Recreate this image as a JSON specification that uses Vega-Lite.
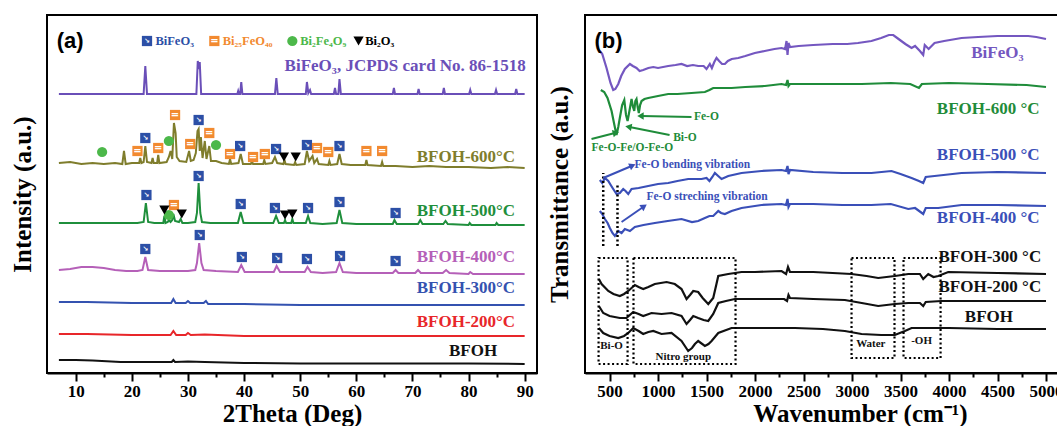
{
"$schema": "https://vega.github.io/schema/vega-lite/v6.json",
"padding": {"left": 9, "top": 14, "right": 0, "bottom": 0},
"spacing": 8,
"background": "white",
"config": {
  "view": {"stroke": "black", "strokeWidth": 2},
  "axis": {"grid": false, "domainColor": "black", "domainWidth": 2, "tickColor": "black", "tickWidth": 2,
    "labelFont": "Liberation Serif", "labelFontWeight": "bold", "labelFontSize": 17, "labelColor": "black",
    "titleFont": "Liberation Serif", "titleFontWeight": "bold", "titleFontSize": 25, "titleColor": "black"},
  "text": {"font": "Liberation Serif", "fontWeight": "bold"}
},
"resolve": {"scale": {"color": "independent", "fill": "independent", "shape": "independent", "size": "independent", "x": "independent", "y": "independent"}},
"datasets": {
"xrd": [
{"s":"JCPDS","x":7,"y":279},{"s":"JCPDS","x":22.1,"y":279},{"s":"JCPDS","x":22.4,"y":307},{"s":"JCPDS","x":22.7,"y":279},{"s":"JCPDS","x":31.5,"y":279},{"s":"JCPDS","x":31.75,"y":312},{"s":"JCPDS","x":31.95,"y":304},{"s":"JCPDS","x":32.1,"y":311},{"s":"JCPDS","x":32.35,"y":279},{"s":"JCPDS","x":38.8,"y":279},{"s":"JCPDS","x":38.95,"y":282},{"s":"JCPDS","x":39.1,"y":279},{"s":"JCPDS","x":39.3,"y":279},{"s":"JCPDS","x":39.5,"y":291},{"s":"JCPDS","x":39.7,"y":279},{"s":"JCPDS","x":45.5,"y":279},{"s":"JCPDS","x":45.75,"y":295},{"s":"JCPDS","x":46.0,"y":279},{"s":"JCPDS","x":51.0,"y":279},{"s":"JCPDS","x":51.2,"y":291},{"s":"JCPDS","x":51.45,"y":280},{"s":"JCPDS","x":51.75,"y":283},{"s":"JCPDS","x":51.95,"y":279},{"s":"JCPDS","x":56.0,"y":279},{"s":"JCPDS","x":56.2,"y":285},{"s":"JCPDS","x":56.4,"y":279},{"s":"JCPDS","x":56.8,"y":279},{"s":"JCPDS","x":57.0,"y":294},{"s":"JCPDS","x":57.25,"y":279},{"s":"JCPDS","x":66.5,"y":279},{"s":"JCPDS","x":66.7,"y":285},{"s":"JCPDS","x":66.9,"y":279},{"s":"JCPDS","x":70.9,"y":279},{"s":"JCPDS","x":71.1,"y":284},{"s":"JCPDS","x":71.3,"y":279},{"s":"JCPDS","x":75.4,"y":279},{"s":"JCPDS","x":75.6,"y":285},{"s":"JCPDS","x":75.8,"y":279},{"s":"JCPDS","x":80.1,"y":279},{"s":"JCPDS","x":80.3,"y":283},{"s":"JCPDS","x":80.5,"y":279},{"s":"JCPDS","x":84.7,"y":279},{"s":"JCPDS","x":84.9,"y":283},{"s":"JCPDS","x":85.1,"y":279},{"s":"JCPDS","x":88.3,"y":279},{"s":"JCPDS","x":88.5,"y":284},{"s":"JCPDS","x":88.7,"y":279},{"s":"JCPDS","x":90,"y":279},
{"s":"600","x":7,"y":210},{"s":"600","x":9,"y":211},{"s":"600","x":11,"y":209},{"s":"600","x":13,"y":210},{"s":"600","x":15,"y":209},{"s":"600","x":17,"y":210},{"s":"600","x":18.3,"y":209},{"s":"600","x":18.6,"y":222},{"s":"600","x":18.9,"y":209},{"s":"600","x":20,"y":210},{"s":"600","x":21.3,"y":210},{"s":"600","x":21.5,"y":215},{"s":"600","x":21.7,"y":210},{"s":"600","x":22.1,"y":211},{"s":"600","x":22.4,"y":227},{"s":"600","x":22.7,"y":211},{"s":"600","x":23.5,"y":210},{"s":"600","x":23.7,"y":215},{"s":"600","x":23.9,"y":210},{"s":"600","x":24.5,"y":210},{"s":"600","x":24.7,"y":218},{"s":"600","x":24.9,"y":210},{"s":"600","x":26.2,"y":211},{"s":"600","x":26.6,"y":216},{"s":"600","x":26.9,"y":222},{"s":"600","x":27.2,"y":214},{"s":"600","x":27.5,"y":250},{"s":"600","x":27.8,"y":240},{"s":"600","x":28.0,"y":216},{"s":"600","x":28.5,"y":212},{"s":"600","x":29.7,"y":211},{"s":"600","x":30.2,"y":222},{"s":"600","x":30.5,"y":212},{"s":"600","x":31.0,"y":213},{"s":"600","x":31.4,"y":220},{"s":"600","x":31.7,"y":242},{"s":"600","x":31.9,"y":244},{"s":"600","x":32.1,"y":222},{"s":"600","x":32.3,"y":236},{"s":"600","x":32.6,"y":215},{"s":"600","x":33.0,"y":232},{"s":"600","x":33.3,"y":214},{"s":"600","x":33.8,"y":227},{"s":"600","x":34.1,"y":212},{"s":"600","x":35.0,"y":212},{"s":"600","x":36.0,"y":210},{"s":"600","x":37.3,"y":209},{"s":"600","x":37.5,"y":214},{"s":"600","x":37.7,"y":209},{"s":"600","x":39.0,"y":210},{"s":"600","x":39.4,"y":219},{"s":"600","x":39.8,"y":209},{"s":"600","x":41.2,"y":209},{"s":"600","x":41.4,"y":212},{"s":"600","x":41.6,"y":209},{"s":"600","x":43.4,"y":209},{"s":"600","x":43.6,"y":213},{"s":"600","x":43.8,"y":209},{"s":"600","x":45.0,"y":210},{"s":"600","x":45.5,"y":216},{"s":"600","x":45.9,"y":210},{"s":"600","x":47.0,"y":209},{"s":"600","x":47.2,"y":213},{"s":"600","x":47.4,"y":209},{"s":"600","x":48.9,"y":208},{"s":"600","x":49.1,"y":211},{"s":"600","x":49.3,"y":208},{"s":"600","x":50.8,"y":209},{"s":"600","x":51.2,"y":222},{"s":"600","x":51.6,"y":212},{"s":"600","x":52.2,"y":217},{"s":"600","x":52.5,"y":210},{"s":"600","x":53.0,"y":214},{"s":"600","x":53.3,"y":209},{"s":"600","x":55.0,"y":208},{"s":"600","x":55.2,"y":212},{"s":"600","x":55.4,"y":208},{"s":"600","x":56.6,"y":209},{"s":"600","x":57.0,"y":219},{"s":"600","x":57.4,"y":209},{"s":"600","x":59,"y":208},{"s":"600","x":61.6,"y":208},{"s":"600","x":61.8,"y":213},{"s":"600","x":62.0,"y":208},{"s":"600","x":64.4,"y":207},{"s":"600","x":64.6,"y":211},{"s":"600","x":64.8,"y":207},{"s":"600","x":67,"y":207},{"s":"600","x":70,"y":206},{"s":"600","x":73,"y":207},{"s":"600","x":76,"y":206},{"s":"600","x":80,"y":206},{"s":"600","x":84,"y":205},{"s":"600","x":87,"y":206},{"s":"600","x":90,"y":205},
{"s":"500","x":7,"y":150},{"s":"500","x":10,"y":150},{"s":"500","x":13,"y":150},{"s":"500","x":16,"y":150},{"s":"500","x":19,"y":150},{"s":"500","x":21,"y":150},{"s":"500","x":22.1,"y":151},{"s":"500","x":22.5,"y":170},{"s":"500","x":22.9,"y":151},{"s":"500","x":24,"y":150},{"s":"500","x":25.6,"y":150},{"s":"500","x":25.8,"y":157},{"s":"500","x":26.0,"y":150},{"s":"500","x":26.4,"y":151},{"s":"500","x":26.6,"y":153},{"s":"500","x":26.9,"y":151},{"s":"500","x":27.2,"y":153},{"s":"500","x":27.4,"y":159},{"s":"500","x":27.7,"y":152},{"s":"500","x":28.4,"y":151},{"s":"500","x":28.7,"y":154},{"s":"500","x":29.0,"y":150},{"s":"500","x":30,"y":150},{"s":"500","x":31.3,"y":151},{"s":"500","x":31.6,"y":160},{"s":"500","x":31.9,"y":190},{"s":"500","x":32.2,"y":160},{"s":"500","x":32.5,"y":151},{"s":"500","x":34,"y":150},{"s":"500","x":36,"y":150},{"s":"500","x":38.9,"y":150},{"s":"500","x":39.4,"y":161},{"s":"500","x":39.9,"y":150},{"s":"500","x":42,"y":150},{"s":"500","x":45.2,"y":150},{"s":"500","x":45.7,"y":157},{"s":"500","x":46.2,"y":150},{"s":"500","x":47.1,"y":150},{"s":"500","x":47.3,"y":153},{"s":"500","x":47.5,"y":150},{"s":"500","x":48.4,"y":150},{"s":"500","x":48.6,"y":154},{"s":"500","x":48.8,"y":150},{"s":"500","x":51.0,"y":150},{"s":"500","x":51.4,"y":157},{"s":"500","x":51.8,"y":150},{"s":"500","x":54,"y":149},{"s":"500","x":56.5,"y":150},{"s":"500","x":57.0,"y":163},{"s":"500","x":57.5,"y":150},{"s":"500","x":60,"y":149},{"s":"500","x":63,"y":149},{"s":"500","x":66.5,"y":149},{"s":"500","x":66.8,"y":153},{"s":"500","x":67.2,"y":149},{"s":"500","x":71.0,"y":149},{"s":"500","x":71.4,"y":153},{"s":"500","x":71.8,"y":149},{"s":"500","x":75.5,"y":149},{"s":"500","x":75.9,"y":152},{"s":"500","x":76.3,"y":149},{"s":"500","x":80,"y":148},{"s":"500","x":80.2,"y":150},{"s":"500","x":80.5,"y":148},{"s":"500","x":84.8,"y":148},{"s":"500","x":85,"y":150},{"s":"500","x":85.3,"y":148},{"s":"500","x":88,"y":148},{"s":"500","x":90,"y":148},
{"s":"400","x":7,"y":103},{"s":"400","x":9,"y":104},{"s":"400","x":11,"y":106},{"s":"400","x":13,"y":106},{"s":"400","x":15,"y":105},{"s":"400","x":17,"y":103},{"s":"400","x":19,"y":102},{"s":"400","x":21,"y":102},{"s":"400","x":21.9,"y":103},{"s":"400","x":22.4,"y":116},{"s":"400","x":22.9,"y":103},{"s":"400","x":25,"y":102},{"s":"400","x":28,"y":102},{"s":"400","x":30,"y":102},{"s":"400","x":31.3,"y":103},{"s":"400","x":31.6,"y":110},{"s":"400","x":32.0,"y":130},{"s":"400","x":32.4,"y":110},{"s":"400","x":32.8,"y":103},{"s":"400","x":35,"y":102},{"s":"400","x":38.9,"y":101},{"s":"400","x":39.5,"y":108},{"s":"400","x":40.1,"y":101},{"s":"400","x":43,"y":101},{"s":"400","x":45.3,"y":101},{"s":"400","x":45.8,"y":107},{"s":"400","x":46.4,"y":101},{"s":"400","x":49,"y":101},{"s":"400","x":50.8,"y":101},{"s":"400","x":51.3,"y":106},{"s":"400","x":51.9,"y":101},{"s":"400","x":54,"y":100},{"s":"400","x":56.4,"y":101},{"s":"400","x":57.0,"y":110},{"s":"400","x":57.6,"y":101},{"s":"400","x":60,"y":100},{"s":"400","x":64,"y":100},{"s":"400","x":66.5,"y":100},{"s":"400","x":67,"y":103},{"s":"400","x":67.5,"y":100},{"s":"400","x":70.5,"y":100},{"s":"400","x":71,"y":103},{"s":"400","x":71.5,"y":100},{"s":"400","x":75.4,"y":100},{"s":"400","x":76,"y":103},{"s":"400","x":76.6,"y":100},{"s":"400","x":80,"y":99},{"s":"400","x":80.3,"y":101},{"s":"400","x":80.8,"y":99},{"s":"400","x":85,"y":99},{"s":"400","x":90,"y":99},
{"s":"300","x":7,"y":71},{"s":"300","x":12,"y":71},{"s":"300","x":20,"y":70},{"s":"300","x":25,"y":70},{"s":"300","x":27.0,"y":70},{"s":"300","x":27.4,"y":74},{"s":"300","x":27.8,"y":70},{"s":"300","x":29.6,"y":70},{"s":"300","x":30,"y":72},{"s":"300","x":30.4,"y":70},{"s":"300","x":32.8,"y":70},{"s":"300","x":33.2,"y":72},{"s":"300","x":33.6,"y":69},{"s":"300","x":40,"y":69},{"s":"300","x":50,"y":68},{"s":"300","x":60,"y":68},{"s":"300","x":70,"y":68},{"s":"300","x":80,"y":68},{"s":"300","x":90,"y":68},
{"s":"200","x":7,"y":39},{"s":"200","x":12,"y":39},{"s":"200","x":20,"y":38},{"s":"200","x":26.9,"y":38},{"s":"200","x":27.4,"y":42},{"s":"200","x":27.9,"y":38},{"s":"200","x":29.6,"y":38},{"s":"200","x":30,"y":40},{"s":"200","x":30.5,"y":38},{"s":"200","x":33,"y":38.5},{"s":"200","x":40,"y":37},{"s":"200","x":50,"y":37},{"s":"200","x":60,"y":37},{"s":"200","x":70,"y":37},{"s":"200","x":80,"y":37},{"s":"200","x":90,"y":37},
{"s":"BFOH","x":7,"y":13},{"s":"BFOH","x":10,"y":13},{"s":"BFOH","x":13,"y":12.5},{"s":"BFOH","x":18,"y":11},{"s":"BFOH","x":24,"y":11},{"s":"BFOH","x":27.1,"y":11},{"s":"BFOH","x":27.4,"y":13},{"s":"BFOH","x":27.7,"y":11},{"s":"BFOH","x":30,"y":11.5},{"s":"BFOH","x":33,"y":11},{"s":"BFOH","x":40,"y":10},{"s":"BFOH","x":50,"y":9.5},{"s":"BFOH","x":60,"y":9.5},{"s":"BFOH","x":70,"y":9.5},{"s":"BFOH","x":80,"y":9.5},{"s":"BFOH","x":90,"y":9}
],
"xrdMarks": [
{"t":"b","x":22.4,"y":235},{"t":"b","x":31.9,"y":253},{"t":"b","x":39.3,"y":227},{"t":"b","x":45.7,"y":224},{"t":"b","x":51.2,"y":228},{"t":"b","x":57.0,"y":227},
{"t":"b","x":22.6,"y":178},{"t":"b","x":31.9,"y":197},{"t":"b","x":39.4,"y":169},{"t":"b","x":45.5,"y":165},{"t":"b","x":51.4,"y":165},{"t":"b","x":57.0,"y":171},{"t":"b","x":67.0,"y":160},
{"t":"b","x":22.4,"y":124},{"t":"b","x":32.1,"y":138},{"t":"b","x":39.6,"y":116},{"t":"b","x":45.9,"y":115},{"t":"b","x":51.2,"y":114},{"t":"b","x":57.1,"y":117},{"t":"b","x":67.0,"y":112},
{"t":"b","x":22.7,"y":332},
{"t":"o","x":21.0,"y":222},{"t":"o","x":24.7,"y":225},{"t":"o","x":27.7,"y":258},{"t":"o","x":30.4,"y":229},{"t":"o","x":33.8,"y":240},{"t":"o","x":37.5,"y":219},{"t":"o","x":41.6,"y":216},{"t":"o","x":43.7,"y":219},{"t":"o","x":53.0,"y":225},{"t":"o","x":55.0,"y":221},{"t":"o","x":61.8,"y":222},{"t":"o","x":64.6,"y":222},
{"t":"o","x":27.5,"y":168},{"t":"o","x":34.7,"y":332},
{"t":"g","x":14.7,"y":221},{"t":"g","x":26.6,"y":232},{"t":"g","x":35.0,"y":228},{"t":"g","x":26.6,"y":158},{"t":"g","x":48.6,"y":332},
{"t":"k","x":47.1,"y":216},{"t":"k","x":49.2,"y":216},{"t":"k","x":25.8,"y":163},{"t":"k","x":28.9,"y":159},{"t":"k","x":47.3,"y":158},{"t":"k","x":48.6,"y":159},{"t":"k","x":60.4,"y":332}
],
"xrdLabels": [
{"s":"JCPDS","x":90.2,"y":307,"text":"BiFeO₃, JCPDS card No. 86-1518"},
{"s":"600","x":88.3,"y":216,"text":"BFOH-600°C"},
{"s":"500","x":88.3,"y":162,"text":"BFOH-500°C"},
{"s":"400","x":88.3,"y":116,"text":"BFOH-400°C"},
{"s":"300","x":88.3,"y":85,"text":"BFOH-300°C"},
{"s":"200","x":88.3,"y":51,"text":"BFOH-200°C"},
{"s":"BFOH","x":85.1,"y":22,"text":"BFOH"}
],
"xrdLegend": [
{"t":"b","x":24.2,"y":332,"text":"BiFeO₃"},
{"t":"o","x":36.2,"y":332,"text":"Bi₂₅FeO₄₀"},
{"t":"g","x":50.0,"y":332,"text":"Bi₂Fe₄O₉"},
{"t":"k","x":61.6,"y":332,"text":"Bi₂O₃"}
],
"ftir": [
{"s":"BiFeO3","x":400,"y":322},{"s":"BiFeO3","x":425,"y":319},{"s":"BiFeO3","x":469,"y":305},{"s":"BiFeO3","x":510,"y":290},{"s":"BiFeO3","x":538,"y":283},{"s":"BiFeO3","x":560,"y":284},{"s":"BiFeO3","x":590,"y":289},{"s":"BiFeO3","x":620,"y":297},{"s":"BiFeO3","x":658,"y":304},{"s":"BiFeO3","x":710,"y":309},{"s":"BiFeO3","x":740,"y":307},{"s":"BiFeO3","x":778,"y":305},{"s":"BiFeO3","x":810,"y":302},{"s":"BiFeO3","x":847,"y":303},{"s":"BiFeO3","x":900,"y":305},{"s":"BiFeO3","x":951,"y":306},{"s":"BiFeO3","x":1000,"y":305},{"s":"BiFeO3","x":1105,"y":307},{"s":"BiFeO3","x":1180,"y":308},{"s":"BiFeO3","x":1242,"y":309},{"s":"BiFeO3","x":1300,"y":307},{"s":"BiFeO3","x":1360,"y":308},{"s":"BiFeO3","x":1414,"y":307},{"s":"BiFeO3","x":1470,"y":307},{"s":"BiFeO3","x":1500,"y":304},{"s":"BiFeO3","x":1534,"y":309},{"s":"BiFeO3","x":1555,"y":305},{"s":"BiFeO3","x":1580,"y":311},{"s":"BiFeO3","x":1603,"y":315},{"s":"BiFeO3","x":1630,"y":312},{"s":"BiFeO3","x":1660,"y":309},{"s":"BiFeO3","x":1689,"y":309},{"s":"BiFeO3","x":1720,"y":312},{"s":"BiFeO3","x":1760,"y":314},{"s":"BiFeO3","x":1827,"y":315},{"s":"BiFeO3","x":1900,"y":317},{"s":"BiFeO3","x":1998,"y":320},{"s":"BiFeO3","x":2100,"y":322},{"s":"BiFeO3","x":2200,"y":324},{"s":"BiFeO3","x":2273,"y":325},{"s":"BiFeO3","x":2310,"y":324},{"s":"BiFeO3","x":2325,"y":332},{"s":"BiFeO3","x":2335,"y":318},{"s":"BiFeO3","x":2345,"y":330},{"s":"BiFeO3","x":2360,"y":326},{"s":"BiFeO3","x":2450,"y":327},{"s":"BiFeO3","x":2600,"y":328},{"s":"BiFeO3","x":2800,"y":329},{"s":"BiFeO3","x":2950,"y":329},{"s":"BiFeO3","x":3061,"y":330},{"s":"BiFeO3","x":3200,"y":332},{"s":"BiFeO3","x":3300,"y":335},{"s":"BiFeO3","x":3380,"y":338},{"s":"BiFeO3","x":3425,"y":338},{"s":"BiFeO3","x":3480,"y":334},{"s":"BiFeO3","x":3550,"y":329},{"s":"BiFeO3","x":3614,"y":325},{"s":"BiFeO3","x":3650,"y":327},{"s":"BiFeO3","x":3700,"y":322},{"s":"BiFeO3","x":3734,"y":318},{"s":"BiFeO3","x":3750,"y":328},{"s":"BiFeO3","x":3790,"y":324},{"s":"BiFeO3","x":3851,"y":330},{"s":"BiFeO3","x":3950,"y":332},{"s":"BiFeO3","x":4129,"y":335},{"s":"BiFeO3","x":4300,"y":336},{"s":"BiFeO3","x":4500,"y":337},{"s":"BiFeO3","x":4817,"y":337},{"s":"BiFeO3","x":4900,"y":336},{"s":"BiFeO3","x":5000,"y":334},
{"s":"600","x":410,"y":283},{"s":"600","x":445,"y":281},{"s":"600","x":479,"y":275},{"s":"600","x":521,"y":262},{"s":"600","x":550,"y":248},{"s":"600","x":572,"y":238},{"s":"600","x":590,"y":246},{"s":"600","x":606,"y":255},{"s":"600","x":630,"y":268},{"s":"600","x":652,"y":273},{"s":"600","x":670,"y":258},{"s":"600","x":686,"y":252},{"s":"600","x":705,"y":262},{"s":"600","x":727,"y":274},{"s":"600","x":742,"y":266},{"s":"600","x":755,"y":262},{"s":"600","x":766,"y":272},{"s":"600","x":778,"y":274},{"s":"600","x":790,"y":266},{"s":"600","x":802,"y":260},{"s":"600","x":815,"y":268},{"s":"600","x":830,"y":272},{"s":"600","x":860,"y":274},{"s":"600","x":899,"y":275},{"s":"600","x":1000,"y":277},{"s":"600","x":1105,"y":279},{"s":"600","x":1200,"y":279},{"s":"600","x":1345,"y":280},{"s":"600","x":1483,"y":281},{"s":"600","x":1530,"y":283},{"s":"600","x":1569,"y":285},{"s":"600","x":1650,"y":285},{"s":"600","x":1758,"y":285},{"s":"600","x":1900,"y":286},{"s":"600","x":2101,"y":287},{"s":"600","x":2273,"y":289},{"s":"600","x":2320,"y":288},{"s":"600","x":2335,"y":293},{"s":"600","x":2345,"y":287},{"s":"600","x":2360,"y":289},{"s":"600","x":2500,"y":289},{"s":"600","x":2800,"y":289},{"s":"600","x":3100,"y":289},{"s":"600","x":3400,"y":290},{"s":"600","x":3600,"y":289},{"s":"600","x":3690,"y":285},{"s":"600","x":3720,"y":289},{"s":"600","x":4000,"y":290},{"s":"600","x":4400,"y":289},{"s":"600","x":4800,"y":288},{"s":"600","x":5000,"y":286},
{"s":"500","x":400,"y":193},{"s":"500","x":425,"y":190},{"s":"500","x":452,"y":195},{"s":"500","x":487,"y":192},{"s":"500","x":512,"y":188},{"s":"500","x":538,"y":184},{"s":"500","x":572,"y":179},{"s":"500","x":606,"y":180},{"s":"500","x":641,"y":184},{"s":"500","x":665,"y":182},{"s":"500","x":693,"y":179},{"s":"500","x":727,"y":184},{"s":"500","x":800,"y":185},{"s":"500","x":899,"y":187},{"s":"500","x":1000,"y":189},{"s":"500","x":1105,"y":190},{"s":"500","x":1200,"y":192},{"s":"500","x":1311,"y":194},{"s":"500","x":1449,"y":194},{"s":"500","x":1500,"y":195},{"s":"500","x":1530,"y":192},{"s":"500","x":1560,"y":196},{"s":"500","x":1586,"y":200},{"s":"500","x":1620,"y":197},{"s":"500","x":1655,"y":194},{"s":"500","x":1724,"y":197},{"s":"500","x":1861,"y":200},{"s":"500","x":2067,"y":202},{"s":"500","x":2273,"y":203},{"s":"500","x":2320,"y":202},{"s":"500","x":2335,"y":207},{"s":"500","x":2345,"y":199},{"s":"500","x":2360,"y":203},{"s":"500","x":2600,"y":201},{"s":"500","x":2900,"y":200},{"s":"500","x":3200,"y":200},{"s":"500","x":3407,"y":202},{"s":"500","x":3500,"y":199},{"s":"500","x":3614,"y":195},{"s":"500","x":3690,"y":192},{"s":"500","x":3734,"y":190},{"s":"500","x":3760,"y":196},{"s":"500","x":3851,"y":197},{"s":"500","x":4129,"y":200},{"s":"500","x":4500,"y":201},{"s":"500","x":5000,"y":200},
{"s":"400","x":400,"y":162},{"s":"400","x":425,"y":159},{"s":"400","x":452,"y":154},{"s":"400","x":480,"y":150},{"s":"400","x":503,"y":145},{"s":"400","x":530,"y":140},{"s":"400","x":555,"y":137},{"s":"400","x":590,"y":142},{"s":"400","x":624,"y":140},{"s":"400","x":658,"y":144},{"s":"400","x":710,"y":142},{"s":"400","x":761,"y":146},{"s":"400","x":850,"y":148},{"s":"400","x":967,"y":150},{"s":"400","x":1100,"y":152},{"s":"400","x":1242,"y":154},{"s":"400","x":1350,"y":151},{"s":"400","x":1414,"y":152},{"s":"400","x":1483,"y":155},{"s":"400","x":1530,"y":157},{"s":"400","x":1569,"y":157},{"s":"400","x":1621,"y":162},{"s":"400","x":1650,"y":160},{"s":"400","x":1689,"y":159},{"s":"400","x":1758,"y":162},{"s":"400","x":1861,"y":165},{"s":"400","x":2067,"y":168},{"s":"400","x":2273,"y":169},{"s":"400","x":2320,"y":168},{"s":"400","x":2335,"y":174},{"s":"400","x":2345,"y":166},{"s":"400","x":2360,"y":169},{"s":"400","x":2600,"y":169},{"s":"400","x":2900,"y":168},{"s":"400","x":3200,"y":168},{"s":"400","x":3400,"y":169},{"s":"400","x":3580,"y":164},{"s":"400","x":3650,"y":165},{"s":"400","x":3734,"y":159},{"s":"400","x":3760,"y":165},{"s":"400","x":3889,"y":165},{"s":"400","x":4129,"y":168},{"s":"400","x":4500,"y":168},{"s":"400","x":5000,"y":167},
{"s":"300","x":390,"y":94},{"s":"300","x":418,"y":89},{"s":"300","x":487,"y":82},{"s":"300","x":540,"y":79},{"s":"300","x":606,"y":77},{"s":"300","x":650,"y":79},{"s":"300","x":693,"y":82},{"s":"300","x":761,"y":88},{"s":"300","x":800,"y":86},{"s":"300","x":847,"y":84},{"s":"300","x":900,"y":86},{"s":"300","x":967,"y":89},{"s":"300","x":1088,"y":91},{"s":"300","x":1173,"y":89},{"s":"300","x":1242,"y":84},{"s":"300","x":1294,"y":74},{"s":"300","x":1330,"y":78},{"s":"300","x":1363,"y":82},{"s":"300","x":1414,"y":81},{"s":"300","x":1460,"y":75},{"s":"300","x":1518,"y":69},{"s":"300","x":1569,"y":75},{"s":"300","x":1600,"y":88},{"s":"300","x":1621,"y":97},{"s":"300","x":1724,"y":99},{"s":"300","x":1861,"y":101},{"s":"300","x":2000,"y":101},{"s":"300","x":2273,"y":102},{"s":"300","x":2320,"y":99},{"s":"300","x":2340,"y":106},{"s":"300","x":2360,"y":101},{"s":"300","x":2600,"y":101},{"s":"300","x":2800,"y":100},{"s":"300","x":2995,"y":99},{"s":"300","x":3150,"y":97},{"s":"300","x":3270,"y":95},{"s":"300","x":3442,"y":97},{"s":"300","x":3580,"y":99},{"s":"300","x":3700,"y":99},{"s":"300","x":3734,"y":94},{"s":"300","x":3786,"y":99},{"s":"300","x":3840,"y":96},{"s":"300","x":3889,"y":97},{"s":"300","x":3992,"y":101},{"s":"300","x":4500,"y":100},{"s":"300","x":5000,"y":99},
{"s":"200","x":390,"y":67},{"s":"200","x":435,"y":60},{"s":"200","x":500,"y":57},{"s":"200","x":606,"y":55},{"s":"200","x":675,"y":55},{"s":"200","x":744,"y":61},{"s":"200","x":800,"y":59},{"s":"200","x":847,"y":57},{"s":"200","x":933,"y":60},{"s":"200","x":1036,"y":59},{"s":"200","x":1139,"y":60},{"s":"200","x":1242,"y":57},{"s":"200","x":1294,"y":49},{"s":"200","x":1330,"y":53},{"s":"200","x":1363,"y":57},{"s":"200","x":1414,"y":55},{"s":"200","x":1470,"y":53},{"s":"200","x":1518,"y":52},{"s":"200","x":1569,"y":59},{"s":"200","x":1621,"y":70},{"s":"200","x":1700,"y":72},{"s":"200","x":1792,"y":74},{"s":"200","x":2000,"y":74},{"s":"200","x":2300,"y":74},{"s":"200","x":2330,"y":72},{"s":"200","x":2345,"y":78},{"s":"200","x":2360,"y":75},{"s":"200","x":2600,"y":74},{"s":"200","x":2926,"y":73},{"s":"200","x":3100,"y":70},{"s":"200","x":3270,"y":67},{"s":"200","x":3442,"y":69},{"s":"200","x":3580,"y":70},{"s":"200","x":3700,"y":70},{"s":"200","x":3734,"y":67},{"s":"200","x":3760,"y":71},{"s":"200","x":3923,"y":72},{"s":"200","x":4500,"y":72},{"s":"200","x":5000,"y":72},
{"s":"BFOH","x":390,"y":45},{"s":"BFOH","x":435,"y":40},{"s":"BFOH","x":500,"y":37},{"s":"BFOH","x":590,"y":35},{"s":"BFOH","x":650,"y":37},{"s":"BFOH","x":693,"y":40},{"s":"BFOH","x":744,"y":45},{"s":"BFOH","x":800,"y":42},{"s":"BFOH","x":847,"y":39},{"s":"BFOH","x":900,"y":41},{"s":"BFOH","x":951,"y":42},{"s":"BFOH","x":1036,"y":39},{"s":"BFOH","x":1139,"y":40},{"s":"BFOH","x":1242,"y":32},{"s":"BFOH","x":1311,"y":22},{"s":"BFOH","x":1350,"y":25},{"s":"BFOH","x":1380,"y":29},{"s":"BFOH","x":1414,"y":32},{"s":"BFOH","x":1483,"y":27},{"s":"BFOH","x":1520,"y":29},{"s":"BFOH","x":1552,"y":32},{"s":"BFOH","x":1621,"y":40},{"s":"BFOH","x":1758,"y":45},{"s":"BFOH","x":2000,"y":45},{"s":"BFOH","x":2411,"y":45},{"s":"BFOH","x":2700,"y":44},{"s":"BFOH","x":2926,"y":42},{"s":"BFOH","x":3098,"y":39},{"s":"BFOH","x":3300,"y":38},{"s":"BFOH","x":3442,"y":38},{"s":"BFOH","x":3545,"y":42},{"s":"BFOH","x":3614,"y":45},{"s":"BFOH","x":4000,"y":45},{"s":"BFOH","x":4500,"y":44},{"s":"BFOH","x":5000,"y":44}
],
"ftirLabels": [
{"s":"BiFeO3","x":4768,"y":320,"text":"BiFeO₃"},
{"s":"600","x":4933,"y":264,"text":"BFOH-600 °C"},
{"s":"500","x":4933,"y":218,"text":"BFOH-500 °C"},
{"s":"400","x":4933,"y":155,"text":"BFOH-400 °C"},
{"s":"300","x":4950,"y":116,"text":"BFOH-300 °C"},
{"s":"200","x":4950,"y":86,"text":"BFOH-200 °C"},
{"s":"BFOH","x":4660,"y":56,"text":"BFOH"}
],
"ftirNotes": [
{"s":"600","x":1370,"y":256,"text":"Fe-O"},
{"s":"600","x":1156,"y":235,"text":"Bi-O"},
{"s":"600","x":314,"y":225,"text":"Fe-O-Fe/O-Fe-O"},
{"s":"500","x":758,"y":208,"text":"Fe-O bending vibration"},
{"s":"500","x":881,"y":176,"text":"Fe-O streching vibration"}
],
"boxNotes": [
{"x":521,"y":27,"text":"Bi-O"},
{"x":1260,"y":16,"text":"Nitro group"},
{"x":3194,"y":29,"text":"Water"},
{"x":3717,"y":32,"text":"-OH"}
],
"boxes": [
{"x":387,"x2":686,"y":9,"y2":115},
{"x":747,"x2":1799,"y":9,"y2":115},
{"x":2995,"x2":3438,"y":15,"y2":115},
{"x":3531,"x2":3913,"y":15,"y2":115}
],
"vlines": [
{"x":435,"y":127,"y2":200},
{"x":582,"y":127,"y2":190}
],
"arrows": [
{"id":"feo","s":"600","x":1345,"y":256,"x2":830,"y2":257},
{"id":"bio","s":"600","x":1119,"y":238,"x2":706,"y2":246},
{"id":"feofe","s":"600","x":314,"y":234,"x2":555,"y2":240},
{"id":"bend","s":"500","x":435,"y":195,"x2":727,"y2":207},
{"id":"str","s":"500","x":624,"y":151,"x2":847,"y2":166}
],
"heads": [
{"id":"feo","x":830,"y":257},
{"id":"bio","x":706,"y":246},
{"id":"feofe","x":555,"y":240},
{"id":"bend","x":727,"y":207},
{"id":"str","x":847,"y":166}
]
},
"hconcat": [
{
  "width": 490, "height": 358,
  "encoding": {
    "x": {"field": "x", "type": "quantitative", "scale": {"domain": [4.88, 92.2], "nice": false, "zero": false},
      "axis": {"title": "2Theta (Deg)", "values": [10,15,20,25,30,35,40,45,50,55,60,65,70,75,80,85,90],
        "labelExpr": "datum.value % 10 === 0 ? datum.label : ''",
        "tickSize": {"condition": {"test": "datum.value % 10 !== 0", "value": 4}, "value": 8},
        "labelPadding": 2, "titlePadding": 2, "labelFlush": false}},
    "y": {"field": "y", "type": "quantitative", "scale": {"domain": [0, 358], "nice": false, "zero": false},
      "axis": {"title": "Intensity (a.u.)", "labels": false, "ticks": false, "domain": false, "titlePadding": 12}}
  },
  "layer": [
    {"data": {"name": "xrd"}, "mark": {"type": "line", "strokeWidth": 2},
     "encoding": {"color": {"field": "s", "type": "nominal", "legend": null,
       "scale": {"domain": ["JCPDS","600","500","400","300","200","BFOH"], "range": ["#6a4fb8","#7f7d2c","#1f8f3c","#b560b8","#3452b0","#e8262a","#111111"]}}}},
    {"data": {"name": "xrdMarks"}, "mark": {"type": "point", "filled": true, "opacity": 1, "strokeWidth": 0},
     "encoding": {
       "shape": {"field": "t", "type": "nominal", "legend": null, "scale": {"domain": ["b","o","g","k"], "range": ["square","square","circle","triangle-down"]}},
       "fill": {"field": "t", "type": "nominal", "legend": null, "scale": {"domain": ["b","o","g","k"], "range": ["#2c4fa6","#f28a30","#4cb84a","#000000"]}},
       "size": {"field": "t", "type": "ordinal", "legend": null, "scale": {"domain": ["b","o","g","k"], "range": [105,105,55,50]}}}},
    {"data": {"name": "xrdMarks"}, "transform": [{"filter": "datum.t === 'o'"}],
     "mark": {"type": "text", "text": "=", "color": "white", "fontSize": 10, "font": "DejaVu Sans", "fontWeight": "bold", "baseline": "middle", "align": "center"}},
    {"data": {"name": "xrdMarks"}, "transform": [{"filter": "datum.t === 'b'"}],
     "mark": {"type": "text", "text": "↘", "color": "white", "fontSize": 7, "font": "DejaVu Sans", "baseline": "middle", "align": "center"}},
    {"data": {"name": "xrdLabels"}, "mark": {"type": "text", "align": "right", "baseline": "middle", "fontSize": 17},
     "encoding": {"text": {"field": "text"}, "color": {"field": "s", "type": "nominal", "legend": null}}},
    {"data": {"name": "xrdLegend"}, "mark": {"type": "text", "align": "left", "baseline": "middle", "fontSize": 12.5},
     "encoding": {"text": {"field": "text"}, "fill": {"field": "t", "type": "nominal", "legend": null}}},
    {"data": {"values": [{"x": 6.6, "y": 332}]}, "mark": {"type": "text", "text": "(a)", "align": "left", "baseline": "middle", "fontSize": 22, "font": "Liberation Sans", "fontWeight": "bold", "color": "black"}}
  ]
},
{
  "width": 474, "height": 358,
  "encoding": {
    "x": {"field": "x", "type": "quantitative", "scale": {"domain": [247, 5134], "nice": false, "zero": false},
      "axis": {"title": "Wavenumber (cm⁻¹)", "format": "d", "titleX": 275,
        "values": [500,750,1000,1250,1500,1750,2000,2250,2500,2750,3000,3250,3500,3750,4000,4250,4500,4750,5000],
        "labelExpr": "datum.value % 500 === 0 ? datum.label : ''",
        "tickSize": {"condition": {"test": "datum.value % 500 !== 0", "value": 4}, "value": 8},
        "labelPadding": 2, "titlePadding": 2, "labelFlush": false}},
    "y": {"field": "y", "type": "quantitative", "scale": {"domain": [0, 358], "nice": false, "zero": false},
      "axis": {"title": "Transmittance (a.u.)", "labels": false, "ticks": false, "domain": false, "titlePadding": 13}}
  },
  "layer": [
    {"data": {"name": "ftir"}, "mark": {"type": "line", "strokeWidth": 2.2},
     "encoding": {"color": {"field": "s", "type": "nominal", "legend": null,
       "scale": {"domain": ["BiFeO3","600","500","400","300","200","BFOH"], "range": ["#7457c0","#1f8c3a","#3a4fb8","#3a4fb8","#111111","#111111","#111111"]}}}},
    {"data": {"name": "boxes"}, "mark": {"type": "rect", "fill": "transparent", "stroke": "black", "strokeWidth": 2.2, "strokeDash": [2, 2.5]},
     "encoding": {"x2": {"field": "x2"}, "y2": {"field": "y2"}}},
    {"data": {"name": "vlines"}, "mark": {"type": "rule", "color": "black", "strokeWidth": 2.5, "strokeDash": [2, 2.5]},
     "encoding": {"y2": {"field": "y2"}}},
    {"data": {"name": "arrows"}, "mark": {"type": "rule", "strokeWidth": 2},
     "encoding": {"x2": {"field": "x2"}, "y2": {"field": "y2"}, "color": {"field": "s", "type": "nominal", "legend": null}}},
    {"data": {"name": "heads"}, "transform": [{"filter": "datum.id === 'feo'"}], "mark": {"type": "point", "shape": "triangle", "filled": true, "opacity": 1, "size": 55, "angle": 270, "color": "#1f8c3a"}},
    {"data": {"name": "heads"}, "transform": [{"filter": "datum.id === 'bio'"}], "mark": {"type": "point", "shape": "triangle", "filled": true, "opacity": 1, "size": 55, "angle": 281, "color": "#1f8c3a"}},
    {"data": {"name": "heads"}, "transform": [{"filter": "datum.id === 'feofe'"}], "mark": {"type": "point", "shape": "triangle", "filled": true, "opacity": 1, "size": 55, "angle": 75, "color": "#1f8c3a"}},
    {"data": {"name": "heads"}, "transform": [{"filter": "datum.id === 'bend'"}], "mark": {"type": "point", "shape": "triangle", "filled": true, "opacity": 1, "size": 55, "angle": 67, "color": "#3a4fb8"}},
    {"data": {"name": "heads"}, "transform": [{"filter": "datum.id === 'str'"}], "mark": {"type": "point", "shape": "triangle", "filled": true, "opacity": 1, "size": 55, "angle": 56, "color": "#3a4fb8"}},
    {"data": {"name": "ftirLabels"}, "mark": {"type": "text", "align": "right", "baseline": "middle", "fontSize": 17},
     "encoding": {"text": {"field": "text"}, "color": {"field": "s", "type": "nominal", "legend": null}}},
    {"data": {"name": "ftirNotes"}, "mark": {"type": "text", "align": "left", "baseline": "middle", "fontSize": 11.5},
     "encoding": {"text": {"field": "text"}, "color": {"field": "s", "type": "nominal", "legend": null}}},
    {"data": {"name": "boxNotes"}, "mark": {"type": "text", "align": "center", "baseline": "middle", "fontSize": 11, "color": "#111111"},
     "encoding": {"text": {"field": "text"}}},
    {"data": {"values": [{"x": 345, "y": 332}]}, "mark": {"type": "text", "text": "(b)", "align": "left", "baseline": "middle", "fontSize": 22, "font": "Liberation Sans", "fontWeight": "bold", "color": "black"}}
  ]
}
]
}
